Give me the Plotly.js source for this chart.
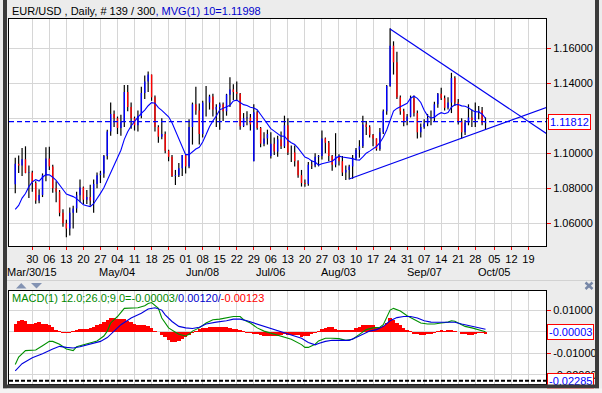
<!DOCTYPE html>
<html><head><meta charset="utf-8">
<script src="https://cdn.plot.ly/plotly-3.0.1.min.js"></script>
<style>
html,body{margin:0;padding:0;background:#ececec;}
#wrap{position:relative;width:602px;height:393px;overflow:hidden;}
#chart{position:absolute;left:0;top:0;width:602px;height:393px;}
#ov{position:absolute;left:0;top:0;width:602px;height:393px;pointer-events:none;}
</style></head>
<body>
<div id="wrap"><div id="chart"></div>
<svg id="ov" width="602" height="393">
  <line x1="7" y1="280.5" x2="595" y2="280.5" stroke="#d2d2d2" stroke-width="1"/>
  <polygon points="16,288.5 26.5,288.5 21.25,283" fill="#8393b3"/>
  <polygon points="31,283 42,283 36.5,288.5" fill="#8393b3"/>
  <line x1="585.5" y1="282.5" x2="592.5" y2="289" stroke="#7787a7" stroke-width="2.4"/>
  <line x1="592.5" y1="282.5" x2="585.5" y2="289" stroke="#7787a7" stroke-width="2.4"/>
  <rect x="3" y="0" width="4" height="388.5" fill="#3a3a3a"/>
  <rect x="595" y="0" width="4" height="388.5" fill="#3a3a3a"/>
  <rect x="3" y="384.5" width="596" height="4" fill="#3a3a3a"/>
  <rect x="0" y="388.5" width="602" height="5" fill="#f4f4f4"/>
</svg>
</div>
<script>
// ---- price data (bar index 0 = Mar 23 2015 ... 138 = Oct 1 2015)
const open  = [1.0823,1.0940,1.0930,1.0966,1.0888,1.0890,1.0830,1.0730,1.0762,1.0875,1.0970,1.0925,1.0800,1.0780,1.0660,1.0600,1.0570,1.0660,1.0685,1.0760,1.0805,1.0735,1.0750,1.0730,1.0825,1.0875,1.0885,1.0985,1.1125,1.1225,1.1200,1.1145,1.1180,1.1350,1.1265,1.1200,1.1160,1.1213,1.1345,1.1410,1.1450,1.1320,1.1150,1.1095,1.1110,1.1015,1.0980,1.0870,1.0875,1.0915,1.0990,1.0925,1.1150,1.1280,1.1245,1.1110,1.1290,1.1290,1.1325,1.1250,1.1265,1.1280,1.1240,1.1335,1.1365,1.1350,1.1340,1.1155,1.1200,1.1205,1.0955,1.1235,1.1145,1.1055,1.1085,1.0985,1.1055,1.1010,1.1080,1.1040,1.1160,1.1005,1.1005,1.0955,1.0875,1.0830,1.0825,1.0935,1.0930,1.0980,1.0985,1.1085,1.1060,1.0985,1.0935,1.0985,1.0955,1.0890,1.0905,1.0925,1.0970,1.1020,1.1040,1.1165,1.1150,1.1105,1.1085,1.1025,1.1120,1.1240,1.1385,1.1615,1.1520,1.1320,1.1240,1.1185,1.1210,1.1315,1.1230,1.1120,1.1150,1.1170,1.1200,1.1200,1.1280,1.1340,1.1315,1.1260,1.1290,1.1430,1.1290,1.1185,1.1120,1.1175,1.1205,1.1190,1.1235,1.1245,1.1172];
const high  = [1.0975,1.0987,1.1030,1.1040,1.0930,1.0900,1.0840,1.0795,1.0885,1.1035,1.1038,1.0935,1.0840,1.0790,1.0680,1.0620,1.0690,1.0700,1.0780,1.0850,1.0810,1.0790,1.0820,1.0850,1.0890,1.0900,1.0990,1.1135,1.1290,1.1245,1.1210,1.1220,1.1390,1.1390,1.1290,1.1210,1.1245,1.1380,1.1445,1.1467,1.1450,1.1330,1.1160,1.1200,1.1125,1.1020,1.0990,1.0905,1.0945,1.0990,1.0990,1.1195,1.1290,1.1380,1.1285,1.1300,1.1385,1.1335,1.1340,1.1280,1.1290,1.1290,1.1340,1.1435,1.1395,1.1410,1.1345,1.1230,1.1240,1.1225,1.1280,1.1245,1.1150,1.1120,1.1135,1.1120,1.1090,1.1100,1.1125,1.1215,1.1200,1.1045,1.1045,1.0960,1.0905,1.0850,1.0950,1.0960,1.1000,1.0990,1.1130,1.1090,1.1070,1.0990,1.1115,1.0995,1.0985,1.0930,1.0935,1.0990,1.1030,1.1075,1.1215,1.1185,1.1160,1.1110,1.1085,1.1145,1.1250,1.1390,1.1714,1.1640,1.1580,1.1330,1.1255,1.1225,1.1330,1.1330,1.1245,1.1170,1.1195,1.1225,1.1245,1.1295,1.1345,1.1375,1.1330,1.1320,1.1460,1.1440,1.1310,1.1200,1.1190,1.1280,1.1250,1.1290,1.1270,1.1265,1.1205];
const low   = [1.0772,1.0887,1.0870,1.0886,1.0745,1.0780,1.0712,1.0714,1.0750,1.0840,1.0904,1.0775,1.0720,1.0640,1.0580,1.0521,1.0530,1.0570,1.0660,1.0720,1.0710,1.0710,1.0700,1.0660,1.0800,1.0830,1.0860,1.0965,1.1100,1.1150,1.1110,1.1100,1.1150,1.1240,1.1140,1.1130,1.1125,1.1200,1.1310,1.1350,1.1300,1.1125,1.1060,1.1080,1.1000,1.0955,1.0865,1.0819,1.0865,1.0870,1.0885,1.0915,1.1050,1.1220,1.1050,1.1090,1.1210,1.1250,1.1210,1.1150,1.1135,1.1185,1.1215,1.1265,1.1305,1.1305,1.1135,1.1150,1.1160,1.1130,1.0955,1.1135,1.1035,1.1040,1.1050,1.0970,1.0990,1.0980,1.1025,1.1030,1.0990,1.0950,1.0925,1.0860,1.0810,1.0809,1.0815,1.0910,1.0920,1.0925,1.0965,1.1000,1.0955,1.0900,1.0920,1.0930,1.0870,1.0848,1.0850,1.0855,1.0960,1.0975,1.1030,1.1105,1.1090,1.1040,1.1015,1.1015,1.1110,1.1220,1.1380,1.1450,1.1310,1.1220,1.1155,1.1160,1.1205,1.1210,1.1085,1.1090,1.1140,1.1155,1.1160,1.1185,1.1260,1.1305,1.1245,1.1250,1.1230,1.1270,1.1165,1.1085,1.1105,1.1160,1.1150,1.1150,1.1195,1.1160,1.1135];
const close = [1.0940,1.0930,1.0966,1.0888,1.0890,1.0830,1.0730,1.0762,1.0875,1.0970,1.0925,1.0800,1.0780,1.0660,1.0600,1.0570,1.0660,1.0685,1.0760,1.0805,1.0735,1.0750,1.0730,1.0825,1.0875,1.0885,1.0985,1.1125,1.1225,1.1200,1.1145,1.1180,1.1350,1.1265,1.1200,1.1160,1.1213,1.1345,1.1410,1.1450,1.1320,1.1150,1.1095,1.1110,1.1015,1.0980,1.0870,1.0875,1.0915,1.0990,1.0925,1.1150,1.1280,1.1245,1.1110,1.1290,1.1290,1.1325,1.1250,1.1265,1.1280,1.1240,1.1335,1.1365,1.1350,1.1340,1.1155,1.1200,1.1205,1.1165,1.1235,1.1145,1.1055,1.1085,1.1110,1.1055,1.1010,1.1080,1.1040,1.1160,1.1005,1.1005,1.0955,1.0875,1.0830,1.0825,1.0935,1.0930,1.0980,1.0985,1.1085,1.1060,1.0985,1.0935,1.0985,1.0955,1.0890,1.0905,1.0925,1.0970,1.1020,1.1040,1.1165,1.1150,1.1105,1.1085,1.1025,1.1120,1.1240,1.1385,1.1615,1.1520,1.1320,1.1240,1.1185,1.1210,1.1315,1.1230,1.1120,1.1150,1.1170,1.1200,1.1200,1.1280,1.1340,1.1315,1.1260,1.1290,1.1430,1.1290,1.1185,1.1120,1.1175,1.1205,1.1190,1.1235,1.1245,1.1172,1.1181];
const ma10  = [1.06795,1.07025,1.07441,1.07699,1.08094,1.08359,1.08494,1.08416,1.08631,1.08781,1.08766,1.08636,1.0845,1.08222,1.07932,1.07672,1.07602,1.07525,1.0741,1.07245,1.07055,1.07005,1.06955,1.0712,1.07395,1.0771,1.08035,1.08475,1.0894,1.09335,1.09745,1.10175,1.10795,1.11235,1.1156,1.11835,1.12063,1.12283,1.12468,1.12718,1.12893,1.12863,1.12608,1.12453,1.12268,1.12088,1.11745,1.11275,1.1078,1.1032,1.09925,1.09925,1.1011,1.10245,1.1034,1.1065,1.1107,1.1152,1.11855,1.1213,1.12485,1.12575,1.1263,1.1275,1.1299,1.1304,1.12905,1.1278,1.12735,1.12635,1.1259,1.12495,1.12215,1.11935,1.11695,1.1141,1.11265,1.11145,1.1098,1.10975,1.10745,1.10605,1.10505,1.10295,1.10015,1.09785,1.0971,1.0956,1.095,1.09325,1.09405,1.0946,1.0949,1.0955,1.09705,1.09835,1.0979,1.09765,1.0971,1.09695,1.0963,1.0961,1.0979,1.10005,1.10125,1.10255,1.1039,1.10605,1.1092,1.11335,1.1193,1.1241,1.12565,1.12655,1.12735,1.1286,1.1315,1.1326,1.1314,1.12905,1.1246,1.1214,1.1202,1.1206,1.12215,1.1232,1.12265,1.12325,1.12635,1.12775,1.1279,1.1271,1.12685,1.1261,1.1246,1.1238,1.12365,1.12247,1.11998];
const lastClose = 1.11812;
// ---- drawn trend lines (bar index, price)
const trendDownX = [110, 160], trendDownY = [1.1710, 1.1059];
const trendUpX   = [98, 160],  trendUpY   = [1.0853, 1.1291];
// ---- MACD panel
const macdX = [0,1,3,6,8,10,11,13,15,17,18,21,24,26,27,28,30,32,34,36,38,39,40,42,43,45,47,48,50,51,52,54,56,58,60,62,64,66,67,69,71,73,76,79,81,84,85,86,88,89,91,93,95,97,99,101,103,105,107,108,109,110,111,113,115,117,119,121,123,125,127,128,129,131,132,134,136,138];
const macdV = [-0.0153,-0.0118,-0.0088,-0.0085,-0.0065,-0.0045,-0.0045,-0.0058,-0.0080,-0.0088,-0.0070,-0.0058,-0.0043,-0.0020,0.0003,0.0041,0.0071,0.0109,0.0109,0.0112,0.0121,0.0132,0.0136,0.0109,0.0064,0.0018,-0.0002,-0.0012,-0.0020,-0.0012,0.0003,0.0018,0.0041,0.0056,0.0059,0.0064,0.0071,0.0071,0.0056,0.0041,0.0018,0.0003,-0.0012,-0.0024,-0.0035,-0.0060,-0.0073,-0.0073,-0.0058,-0.0043,-0.0030,-0.0030,-0.0032,-0.0040,-0.0035,-0.0012,0.0010,0.0018,0.0021,0.0033,0.0064,0.0101,0.0109,0.0097,0.0075,0.0056,0.0041,0.0036,0.0036,0.0041,0.0045,0.0051,0.0049,0.0033,0.0025,0.0018,0.0010,-0.00003];
const signalX = [0,2,5,8,11,13,15,17,19,22,25,27,29,31,34,37,39,41,43,44,46,48,50,52,54,56,59,62,64,66,68,71,74,77,80,84,86,88,89,91,93,95,98,100,102,104,106,108,110,112,114,116,118,120,122,125,127,129,131,133,134,136,138];
const signalV = [-0.0182,-0.0149,-0.0121,-0.0103,-0.0080,-0.0068,-0.0073,-0.0076,-0.0070,-0.0058,-0.0045,-0.0027,0.0003,0.0033,0.0064,0.0086,0.0106,0.0112,0.0101,0.0079,0.0048,0.0025,0.0018,0.0015,0.0021,0.0036,0.0045,0.0051,0.0059,0.0059,0.0051,0.0036,0.0021,0.0007,-0.0009,-0.0030,-0.0050,-0.0061,-0.0055,-0.0045,-0.0040,-0.0040,-0.0040,-0.0027,-0.0012,0.0003,0.0010,0.0025,0.0051,0.0066,0.0071,0.0071,0.0064,0.0051,0.0045,0.0045,0.0044,0.0044,0.0036,0.0030,0.0025,0.0018,0.0012];
const hist = [0.0038,0.0048,0.0053,0.0048,0.0036,0.0036,0.0041,0.0044,0.0036,0.0038,0.0030,0.0020,0.0010,0.0004,-0.0004,-0.0006,-0.0005,0.0005,0.0010,0.0012,0.0014,0.0015,0.0018,0.0024,0.0030,0.0036,0.0045,0.0055,0.0062,0.0064,0.0061,0.0059,0.0058,0.0052,0.0045,0.0036,0.0032,0.0032,0.0030,0.0026,0.0016,0.0005,-0.0002,-0.0015,-0.0025,-0.0039,-0.0046,-0.0048,-0.0042,-0.0035,-0.0026,-0.0013,-0.0006,0.0003,0.0015,0.0018,0.0018,0.0020,0.0021,0.0020,0.0021,0.0020,0.0020,0.0018,0.0015,0.0015,0.0006,0.0002,-0.0005,-0.0008,-0.0010,-0.0012,-0.0015,-0.0018,-0.0019,-0.0020,-0.0020,-0.0018,-0.0016,-0.0012,-0.0015,-0.0014,-0.0013,-0.0015,-0.0024,-0.0020,-0.0020,-0.0010,-0.0004,0.0005,0.0015,0.0016,0.0021,0.0021,0.0012,0.0009,0.0009,0.0006,0.0006,0.0006,0.0018,0.0024,0.0033,0.0033,0.0030,0.0030,0.0024,0.0021,0.0025,0.0041,0.0064,0.0056,0.0042,0.0030,0.0018,0.0009,0.0004,-0.0009,-0.0010,-0.0015,-0.0015,-0.0012,-0.0010,-0.0006,0.0005,0.0009,0.0003,0.0006,0.0009,0.0003,-0.0003,-0.0012,-0.0012,-0.0015,-0.0014,-0.0009,-0.0008,-0.0006,-0.00123];
const macdLow = -0.02285;
// ---- axis labels
const tickIdx  = [5,10,15,20,25,30,35,40,45,50,55,60,65,70,75,80,85,90,95,100,105,110,115,120,125,130,135,140.6,145.6,150.6];
const tickText = ['30','06','13','20','27','04','11','18','25','01','08','15','22','29','06','13','20','27','03','10','17','24','31','07','14','21','28','05','12','19'];
const monthIdx  = [5,30,55,75,95,120,140.6];
const monthText = ['Mar/30/15','May/04','Jun/08','Jul/06','Aug/03','Sep/07','Oct/05'];
const priceTicks = [1.06,1.08,1.10,1.12,1.14,1.16];
const priceTickText = ['1.06000','1.08000','1.10000','','1.14000','1.16000'];   // 1.12000 sits under the last-price box
const macdTicks = [-0.02,-0.01,0,0.01];
const macdTickText = ['-0.02000','-0.01000','','0.01000'];                       // 0.00000 sits under the MACD box

const W=602,H=393,F='"Liberation Sans", Arial, sans-serif';
const fx=p=>p/W, fy=p=>(H-p)/H;
const XR=[-1.837,155.75];

const wx=[],wy=[],ux=[],uy=[],dx=[],dy=[];
for(let i=0;i<close.length;i++){
  wx.push(i,i,null); wy.push(low[i],high[i],null);
  if(close[i]>=open[i]){ux.push(i,i,null);uy.push(open[i],close[i],null);}
  else {dx.push(i,i,null);dy.push(open[i],close[i],null);}
}
const idx = close.map((_,i)=>i);

const traces=[
 {x:wx,y:wy,type:'scatter',mode:'lines',line:{color:'#000',width:1.2},hoverinfo:'skip'},
 {x:ux,y:uy,type:'scatter',mode:'lines',line:{color:'#0000ff',width:1.4},hoverinfo:'skip'},
 {x:dx,y:dy,type:'scatter',mode:'lines',line:{color:'#ff0000',width:1.4},hoverinfo:'skip'},
 {x:idx,y:ma10,type:'scatter',mode:'lines',line:{color:'#0000ff',width:1.1}},
 {x:trendDownX,y:trendDownY,type:'scatter',mode:'lines',line:{color:'#0000ee',width:1.2}},
 {x:trendUpX,y:trendUpY,type:'scatter',mode:'lines',line:{color:'#0000ee',width:1.2}},
 {x:idx,y:hist,type:'bar',xaxis:'x2',yaxis:'y2',width:1,marker:{color:'#ff0000',line:{width:0}}},
 {x:macdX,y:macdV,type:'scatter',mode:'lines',xaxis:'x2',yaxis:'y2',line:{color:'#009000',width:1.1}},
 {x:signalX,y:signalV,type:'scatter',mode:'lines',xaxis:'x2',yaxis:'y2',line:{color:'#0000dd',width:1.1}}
];

const axCommon={showline:true,linecolor:'#000',linewidth:1,mirror:true,zeroline:false,
  showgrid:true,gridcolor:'#d6d6d6',gridwidth:1,fixedrange:true};
const tickFont={family:F,size:11,color:'#000'};

const annotations=[
 {xref:'paper',yref:'paper',x:fx(10),y:fy(11),xanchor:'left',yanchor:'middle',showarrow:false,
  text:'EUR/USD , Daily, # 139 / 300<span style="color:#0000cc">, MVG(1) 10=1.11998</span>',
  font:{family:F,size:11,color:'#000'}},
 {xref:'paper',yref:'paper',x:fx(10),y:fy(298),xanchor:'left',yanchor:'middle',showarrow:false,
  text:'MACD(1) 12.0;26.0;9.0=-0.00003/<span style="color:#0000cc">0.00120/</span><span style="color:#ff0000">-0.00123</span>',
  font:{family:F,size:11,color:'#008800'}},
 {xref:'paper',yref:'y',x:fx(547.5),y:lastClose,xanchor:'left',yanchor:'middle',showarrow:false,
  text:String(lastClose.toFixed(5)),font:{family:F,size:11,color:'#0000ff'},bgcolor:'#ffffff',bordercolor:'#ff0000',borderwidth:1,borderpad:1},
 {xref:'paper',yref:'y2',x:fx(546.5),y:macdV[macdV.length-1],xanchor:'left',yanchor:'middle',showarrow:false,
  text:'-0.00003',font:{family:F,size:11,color:'#0000ff'},bgcolor:'#ffffff',bordercolor:'#ff0000',borderwidth:1,borderpad:1},
 {xref:'paper',yref:'y2',x:fx(546.5),y:macdLow,xanchor:'left',yanchor:'middle',showarrow:false,
  text:'-0.02285',font:{family:F,size:11,color:'#0000ff'},bgcolor:'#ffffff',bordercolor:'#ff0000',borderwidth:1,borderpad:1}
];
monthIdx.forEach((m,k)=>annotations.push({xref:'x',yref:'paper',x:m,y:fy(272),xanchor:'center',yanchor:'middle',
  showarrow:false,text:monthText[k],font:{family:F,size:11,color:'#000'}}));

const layout={
 width:W,height:H,margin:{l:0,r:0,t:0,b:0},autosize:false,showlegend:false,
 paper_bgcolor:'#ececec',plot_bgcolor:'#ffffff',bargap:0,
 font:{family:F,size:11},
 xaxis:Object.assign({},axCommon,{domain:[fx(9),fx(546)],range:XR,anchor:'y',tickmode:'array',tickvals:tickIdx,ticktext:tickText,
   ticks:'outside',ticklen:3,tickwidth:1,tickcolor:'#ff0000',tickfont:tickFont}),
 yaxis:Object.assign({},axCommon,{domain:[fy(246),fy(19)],range:[1.04703,1.17675],anchor:'x',side:'right',tickmode:'array',
   tickvals:priceTicks,ticktext:priceTickText,ticks:'outside',ticklen:4,tickwidth:1,tickcolor:'#ff0000',tickfont:tickFont}),
 xaxis2:Object.assign({},axCommon,{domain:[fx(9),fx(546)],range:XR,anchor:'y2',tickmode:'array',tickvals:tickIdx,showticklabels:false,ticks:''}),
 yaxis2:Object.assign({},axCommon,{domain:[fy(384),fy(291)],range:[-0.02436,0.0190],anchor:'x2',side:'right',tickmode:'array',
   tickvals:macdTicks,ticktext:macdTickText,ticks:'outside',ticklen:4,tickwidth:1,tickcolor:'#ff0000',tickfont:tickFont}),
 shapes:[
  {type:'line',xref:'paper',yref:'y',x0:fx(9),x1:fx(546),y0:lastClose,y1:lastClose,line:{color:'#0000ff',width:1.2,dash:'5px,3px'}},
  {type:'line',xref:'paper',yref:'y2',x0:fx(9),x1:fx(546),y0:macdLow,y1:macdLow,line:{color:'#000',width:2,dash:'4px,2px'}}
 ],
 annotations:annotations
};
Plotly.newPlot('chart',traces,layout,{staticPlot:true,displayModeBar:false});
</script>
</body></html>
